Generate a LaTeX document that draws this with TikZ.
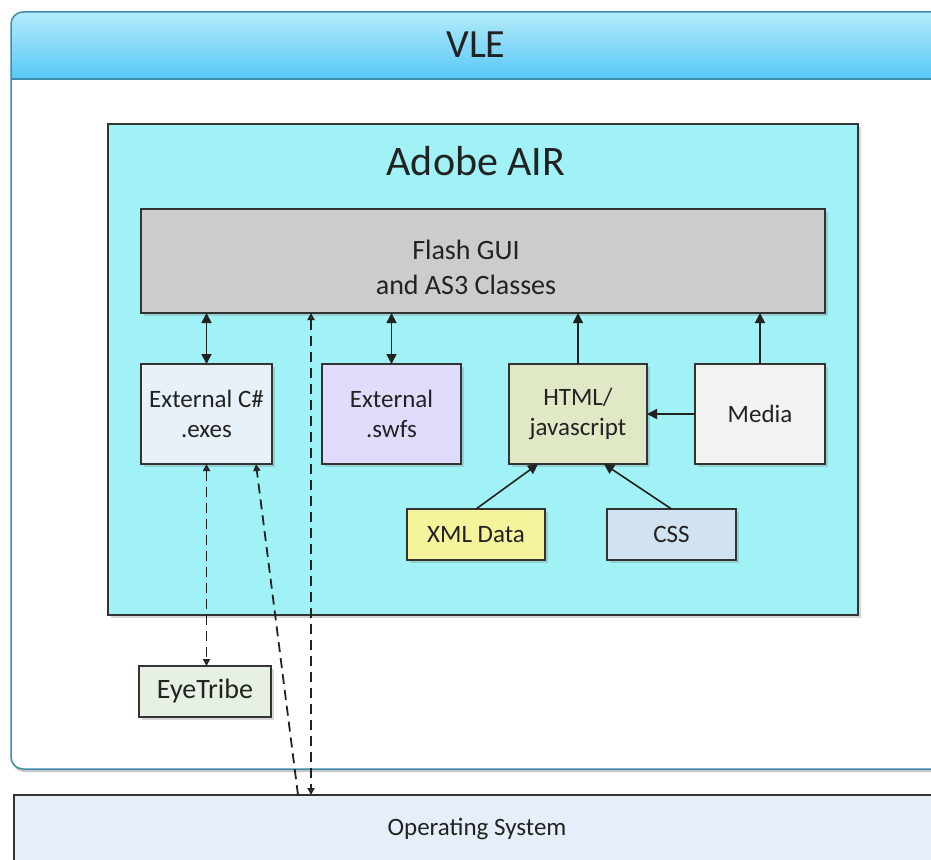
\documentclass[tikz,border=0pt]{standalone}
\usepackage{fontspec}
\setmainfont{Carlito}
\usetikzlibrary{arrows.meta,shadows,calc}

\definecolor{vletop}{HTML}{B4EAFB}
\definecolor{vlebot}{HTML}{58C9F6}
\definecolor{vleline}{HTML}{3E8BAA}
\definecolor{airfill}{HTML}{A0F2F6}
\definecolor{flashgray}{HTML}{CCCCCC}
\definecolor{csfill}{HTML}{E8F0F8}
\definecolor{swfsfill}{HTML}{E0DCFB}
\definecolor{htmlfill}{HTML}{E0E9C5}
\definecolor{mediafill}{HTML}{F2F2F2}
\definecolor{xmlfill}{HTML}{F6F39D}
\definecolor{cssfill}{HTML}{D1E2F1}
\definecolor{eyefill}{HTML}{E6F1E3}
\definecolor{osfill}{HTML}{E6EFF9}
\definecolor{tipfill}{HTML}{5B708C}
\definecolor{ink}{HTML}{222222}

\tikzset{
  stip/.tip={Triangle[length=10pt,width=10pt]},
  dtip/.tip={Triangle[length=7pt,width=7pt,fill=tipfill]}
}

\begin{document}
\begin{tikzpicture}[
  x=1pt, y=-1pt, text=ink,
  box/.style={rectangle, draw=black!80, line width=1.5pt, align=center, outer sep=0pt,
    font=\fontsize{25}{30}\selectfont,
    drop shadow={shadow xshift=2.5pt, shadow yshift=-2.5pt, opacity=.3}},
  smallbox/.style={box, minimum height=100pt},
  tag/.style={box, minimum height=51pt},
  solidlink/.style={line width=1.6pt, draw=ink},
  dashlink/.style={line width=1.8pt, draw=ink, dash pattern=on 10pt off 6pt}
]
\useasboundingbox (0,0) rectangle (931,859);
\clip (0,0) rectangle (931,859);

% VLE container
\node[rectangle, fill=white, outer sep=0pt, anchor=north west, minimum width=970pt, minimum height=757pt,
  rounded corners=12pt, drop shadow={shadow xshift=1pt, shadow yshift=-3pt, opacity=.45}] (vle) at (11,12) {};
\shade[top color=vletop, bottom color=vlebot] (11,79) {[rounded corners=12pt] -- (11,12) -- (981,12)} -- (981,79) -- cycle;
\draw[vleline, line width=1.5pt] (11,79) -- (981,79);
\draw[vleline, line width=1.5pt, rounded corners=12pt] (vle.north west) rectangle (vle.south east);
\node[font=\fontsize{40}{40}\selectfont] (vletitle) at (476,45) {VLE};

% Adobe AIR
\node[box, fill=airfill, minimum width=750pt, minimum height=491pt] (air) at (483,369.5) {};
\node[font=\fontsize{42}{42}\selectfont] (airtitle) at (476,161) {Adobe AIR};

\node[box, fill=flashgray, minimum width=684pt, minimum height=104pt] (flash) at (483,261) {};
\node[align=center, font=\fontsize{28}{35}\selectfont] (flashtext) at (466,267) {Flash GUI\\and AS3 Classes};

\node[smallbox, fill=csfill, minimum width=131pt] (cs) at (206.5,414) {External C\#\\.exes};
\node[smallbox, fill=swfsfill, minimum width=139pt] (swfs) at (391.5,414) {External\\.swfs};
\node[smallbox, fill=htmlfill, minimum width=138pt] (html) at (578,414) {HTML/\\javascript};
\node[smallbox, fill=mediafill, minimum width=130pt] (media) at (760,414) {Media};
\node[tag, fill=xmlfill, minimum width=138pt] (xml) at (476,534.5) {XML Data};
\node[tag, fill=cssfill, minimum width=129pt] (css) at (671.5,534.5) {CSS};

% outside AIR
\node[tag, fill=eyefill, minimum width=132pt, font=\fontsize{28}{30}\selectfont] (eye) at (205,691.5) {EyeTribe};
\node[box, fill=osfill, anchor=north west, minimum width=980pt, minimum height=100pt] (os) at (14,795) {};
\node[font=\fontsize{25}{30}\selectfont] (ostext) at (477,829) {Operating System};

% Arrows
\draw[solidlink, stip-stip] (cs.north) -- (cs.north |- flash.south);
\draw[solidlink, stip-stip] (swfs.north) -- (swfs.north |- flash.south);
\draw[solidlink, -stip] (html.north) -- (html.north |- flash.south);
\draw[solidlink, -stip] (media.north) -- (media.north |- flash.south);
\draw[solidlink, -stip] (media.west) -- (html.east);
\draw[solidlink, -stip] (xml.north) -- ($(html.south)+(-40,0)$);
\draw[solidlink, -stip] (css.north) -- ($(html.south)+(26,0)$);

% Dashed links
\coordinate (flashout) at ($(flash.south west)+(170,0)$);
\coordinate (osin) at ($(os.north west)+(284,0)$);
\draw[dashlink, dtip-dtip] (cs.south) -- (cs.south |- eye.north);
\draw[dashlink, -dtip] (osin) -- ($(cs.south east)+(-16,0)$);
\draw[dashlink, dtip-dtip] (flashout) -- (flashout |- os.north);

\end{tikzpicture}
\end{document}
